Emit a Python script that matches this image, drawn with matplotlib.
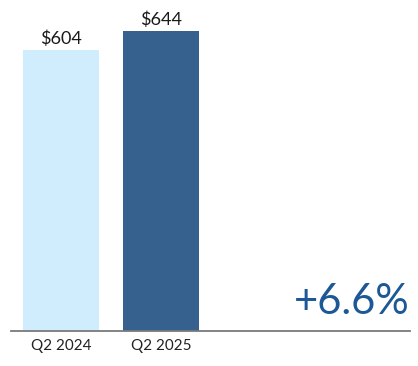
import matplotlib.pyplot as plt

categories = ["Q2 2024", "Q2 2025"]
values = [604, 644]
value_labels = ["$604", "$644"]
bar_colors = ["#d0edfd", "#36618f"]
change_label = "+6.6%"

plt.rcParams["font.family"] = ["Lato", "DejaVu Sans"]

fig = plt.figure(figsize=(4.18, 3.66), dpi=100)
ax = fig.add_axes([11 / 418, 35 / 366, 399 / 418, 326 / 366])

x = list(range(len(categories)))
bars = ax.bar(x, values, width=0.76, color=bar_colors)
ax.bar_label(bars, labels=value_labels, padding=2, fontsize=13, color="#1a1a1a")

ax.set_xlim(-0.5, 3.49)
ax.set_ylim(0, 700)
ax.set_xticks(x, categories)
ax.tick_params(axis="x", length=0, pad=6, labelsize=11, labelcolor="#222222")
ax.set_yticks([])
for side in ("top", "right", "left"):
    ax.spines[side].set_visible(False)
ax.spines["bottom"].set_color("#7a7a7a")
ax.spines["bottom"].set_linewidth(1.3)

ax.text(0.998, 0.03, change_label, transform=ax.transAxes, ha="right", va="bottom",
        fontsize=30, color="#1d5896")

fig.savefig("out.png", dpi=100)
